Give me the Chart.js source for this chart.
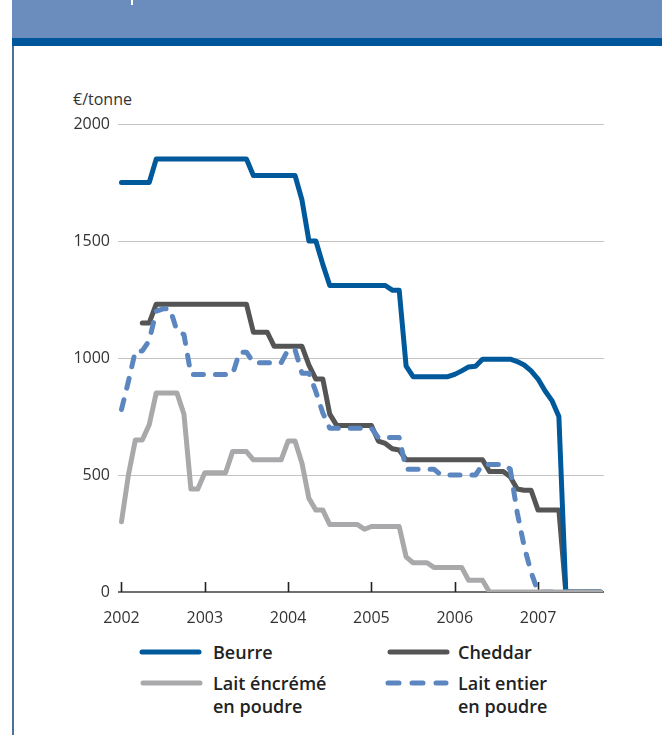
<!DOCTYPE html>
<html><head><meta charset="utf-8">
<script src="https://cdn.jsdelivr.net/npm/chart.js@4"></script>
<style>
body{margin:0;background:#fff;width:662px;height:735px;overflow:hidden;position:relative;font-family:"Open Sans",sans-serif;}
#hdr{position:absolute;left:12px;top:0;width:650px;height:38px;background:#6a8dbd;}
#hdr2{position:absolute;left:12px;top:38px;width:650px;height:8px;background:#00569a;}
#vline{position:absolute;left:12px;top:46px;width:1.5px;height:689px;background:#4a7299;}
#mark{position:absolute;left:131px;top:0;width:2px;height:5px;background:#fff;}
#unit{position:absolute;left:73px;top:88px;font-size:16px;color:#333;line-height:22px;}
canvas{position:absolute;left:0;top:0;}
.lg{position:absolute;font-size:18px;font-weight:600;color:#222;line-height:23px;white-space:nowrap;}
svg{position:absolute;overflow:visible;}
</style></head><body>
<div id="hdr"></div><div id="hdr2"></div><div id="vline"></div><div id="mark"></div>
<div id="unit">€/tonne</div>
<canvas id="c" width="662" height="640"></canvas>
<div id="legend"></div>
<script>
// Categories: monthly, Jan 2002 – Oct 2007
const months = [];
for (let yr = 2002; yr <= 2007; yr++) {
  for (let mo = 1; mo <= 12; mo++) {
    if (yr === 2007 && mo > 10) break;
    months.push(yr + '-' + String(mo).padStart(2, '0'));
  }
}
const yTicks = [0, 500, 1000, 1500, 2000];
const seriesNames = ['Beurre', 'Cheddar', ['Lait éncrémé', 'en poudre'], ['Lait entier', 'en poudre']];

const beurre = [
  1750,1750,1750,1750,1750,
  1850,1850,1850,1850,1850,1850,1850,1850,1850,1850,1850,1850,1850,1850,
  1780,1780,1780,1780,1780,1780,1780,
  1675,1500,1500,1400,
  1310,1310,1310,1310,1310,1310,1310,1310,1310,
  1290,1290,
  965,920,
  920,920,920,920,920,
  930,945,962,965,995,995,995,995,995,
  985,970,945,910,860,818,750,
  0,0,0,0,0,0
];
const cheddar = [
  null,null,null,
  1150,1150,
  1230,1230,1230,1230,1230,1230,1230,1230,1230,1230,1230,1230,1230,1230,
  1110,1110,1110,
  1050,1050,1050,1050,1050,
  970,910,910,760,
  712,712,712,712,712,712,
  645,635,612,607,
  565,565,565,565,565,565,565,565,565,565,565,565,
  515,515,515,
  492,440,435,435,
  350,350,350,350,
  0,0,0,0,0,0
];
const laitEcreme = [
  300,500,650,650,715,
  850,850,850,850,
  760,440,440,
  510,510,510,510,
  600,600,600,
  565,565,565,565,565,
  645,645,
  550,400,350,350,
  288,288,288,288,288,
  268,
  280,280,280,280,280,
  150,
  125,125,125,
  105,105,105,105,105,
  50,50,50,
  0,0,0,0,0,0,0,0,0,0,0,0,0,0,0,0,0
];
const laitEntier = [
  780,900,1030,1030,1075,
  1200,1210,1210,
  1115,1100,
  930,930,930,930,930,930,930,
  1025,1025,
  980,980,980,980,980,
  1035,1035,
  935,935,
  856,765,
  700,700,700,700,700,700,700,
  660,660,660,660,
  525,525,525,525,525,
  500,500,500,500,500,500,
  545,545,545,545,
  525,340,195,85,
  0,0,0,0,0,0,0,0,0,0
];

const colors = ['#00599b', '#555555', '#a9a9ac', '#5b86bf'];

const yearTickPlugin = {
  id: 'yearTicks',
  beforeDatasetsDraw(chart) {
    const {ctx, scales: {x, y}} = chart;
    const y0 = y.getPixelForValue(0);
    ctx.save();
    ctx.strokeStyle = '#222';
    ctx.lineWidth = 1.6;
    months.forEach((m, i) => {
      if (m.endsWith('-01')) {
        const px = Math.round(x.getPixelForValue(i)) + 0.5;
        ctx.beginPath();
        ctx.moveTo(px, y0 - 10);
        ctx.lineTo(px, y0);
        ctx.stroke();
      }
    });
    ctx.restore();
  }
};

const common = {pointRadius: 0, borderWidth: 5, tension: 0, fill: false, borderCapStyle: 'round', borderJoinStyle: 'round'};
new Chart(document.getElementById('c'), {
  type: 'line',
  data: {
    labels: months,
    datasets: [
      {...common, label: 'Beurre', data: beurre, borderColor: colors[0], order: 1},
      {...common, label: 'Cheddar', data: cheddar, borderColor: colors[1], order: 3},
      {...common, label: 'Lait éncrémé en poudre', data: laitEcreme, borderColor: colors[2], order: 0},
      {...common, label: 'Lait entier en poudre', data: laitEntier, borderColor: colors[3], borderDash: [10, 12], order: 2}
    ]
  },
  options: {
    responsive: false,
    animation: false,
    devicePixelRatio: 1,
    layout: {padding: {top: 124, right: 58, bottom: 8, left: 0}},
    plugins: {legend: {display: false}, tooltip: {enabled: false}},
    scales: {
      x: {
        type: 'category',
        offset: true,
        grid: {display: false},
        border: {display: false},
        afterFit(s) { s.height = 40; },
        ticks: {
          autoSkip: false, maxRotation: 0, padding: 9,
          color: '#333', font: {family: 'Open Sans', size: 16},
          callback(v, i) { return months[i].endsWith('-01') ? months[i].slice(0, 4) : ''; }
        }
      },
      y: {
        min: 0, max: 2000,
        afterBuildTicks(s) { s.ticks = yTicks.map(v => ({value: v})); },
        afterFit(s) { s.width = 118; },
        border: {display: false},
        grid: {
          drawTicks: false,
          color: c => c.tick && c.tick.value === 0 ? '#707070' : '#c4c4c4',
          lineWidth: c => c.tick && c.tick.value === 0 ? 2 : 1
        },
        ticks: {padding: 8, color: '#333', font: {family: 'Open Sans', size: 16},
          callback(v) { return String(v); }}
      }
    }
  },
  plugins: [yearTickPlugin]
});

// HTML legend built from series names & colours
const legendItems = [
  {i: 0, lx: 142, ly: 652, tx: 213},
  {i: 1, lx: 390, ly: 652, tx: 458},
  {i: 2, lx: 143, ly: 683, tx: 213},
  {i: 3, lx: 388, ly: 683, tx: 458}
];
const lg = document.getElementById('legend');
legendItems.forEach(it => {
  const name = seriesNames[it.i];
  const dashed = it.i === 3;
  const w = dashed ? 58 : 57;
  const svg = document.createElementNS('http://www.w3.org/2000/svg', 'svg');
  svg.setAttribute('width', w + 10); svg.setAttribute('height', 10);
  svg.style.left = (it.lx - 3) + 'px'; svg.style.top = (it.ly - 5) + 'px';
  const ln = document.createElementNS('http://www.w3.org/2000/svg', 'line');
  ln.setAttribute('x1', 3); ln.setAttribute('x2', 3 + w);
  ln.setAttribute('y1', 5); ln.setAttribute('y2', 5);
  ln.setAttribute('stroke', colors[it.i]); ln.setAttribute('stroke-width', 5);
  ln.setAttribute('stroke-linecap', 'round');
  if (dashed) ln.setAttribute('stroke-dasharray', '11 13');
  svg.appendChild(ln);
  lg.appendChild(svg);
  const d = document.createElement('div');
  d.className = 'lg';
  d.style.left = it.tx + 'px';
  d.style.top = (it.ly - 11.5) + 'px';
  d.innerHTML = Array.isArray(name) ? name.join('<br>') : name;
  lg.appendChild(d);
});
</script>
</body></html>
